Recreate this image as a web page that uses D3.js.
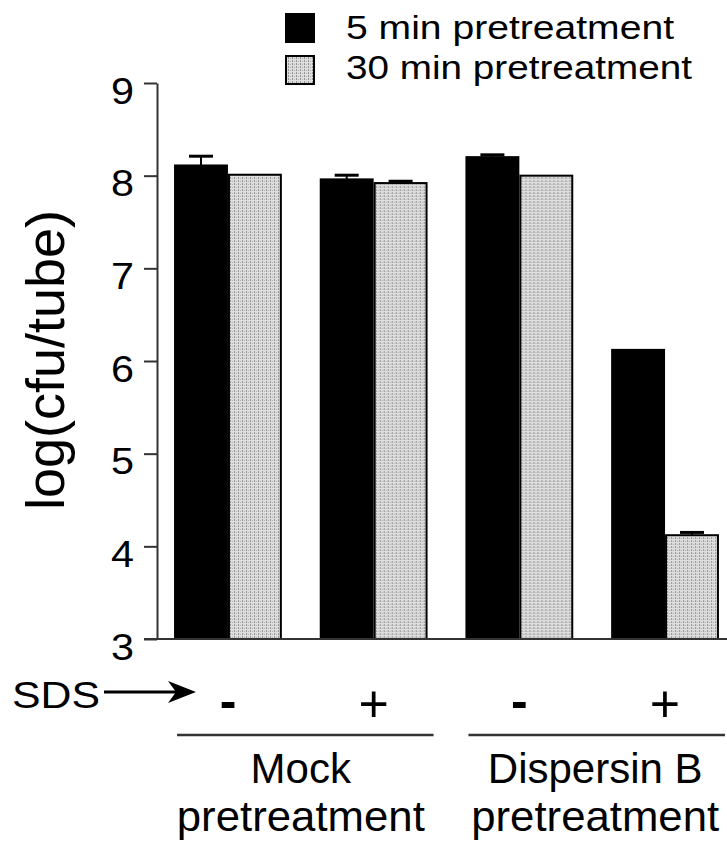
<!DOCTYPE html>
<html>
<head>
<meta charset="utf-8">
<script src="https://cdn.jsdelivr.net/npm/d3@7"></script>
<style>
  html, body { margin: 0; padding: 0; background: #fff; }
  svg { display: block; }
  text { font-family: "Liberation Sans", Arial, Helvetica, sans-serif; fill: #000; }
</style>
</head>
<body>
<svg id="chart" width="727" height="842"></svg>
<script>
// ---- data ----
const groups = ["Mock -", "Mock +", "DspB -", "DspB +"];
const sdsLabels = ["-", "+", "-", "+"];
const seriesNames = ["5 min pretreatment", "30 min pretreatment"];
const values5 = [8.11, 7.96, 8.20, 6.12];
const err5 = [0.10, 0.045, 0.025, 0];
const values30 = [8.01, 7.92, 8.00, 4.12];
const err30 = [0, 0.02, 0, 0.03];
const yTicks = [3, 4, 5, 6, 7, 8, 9];
const pretreatLabels = [["Mock", "pretreatment"], ["Dispersin B", "pretreatment"]];
const pretreatGroups = [[0, 1], [2, 3]];

// ---- setup ----
const svg = d3.select("#chart");
const FONT = "\"Liberation Sans\", Arial, Helvetica, sans-serif";

const defs = svg.append("defs");
const pat = defs.append("pattern")
  .attr("id", "dots").attr("patternUnits", "userSpaceOnUse")
  .attr("width", 4).attr("height", 3);
pat.append("rect").attr("width", 4).attr("height", 3).attr("fill", "#dedede");
pat.append("rect").attr("x", 0).attr("y", 0).attr("width", 1).attr("height", 2).attr("fill", "#959595");
pat.append("rect").attr("x", 2).attr("y", 1).attr("width", 1).attr("height", 1).attr("fill", "#b0b0b0");

const x = d3.scaleBand().domain(groups).range([157, 736])
  .paddingInner(0.26).paddingOuter(0.117);
const xs = d3.scaleBand().domain(seriesNames).range([0, x.bandwidth()]).padding(0);
const y = d3.scaleLinear().domain([3, 9]).range([639, 83]);

const rows = groups.map((g, i) => ({
  g, i,
  bars: [
    { s: seriesNames[0], v: values5[i], e: err5[i] },
    { s: seriesNames[1], v: values30[i], e: err30[i] }
  ]
}));

// ---- bars ----
const gBars = svg.append("g");
const grp = gBars.selectAll("g.grp").data(rows).join("g")
  .attr("transform", d => `translate(${x(d.g)},0)`);

// error bars (behind bars)
grp.selectAll("g.err").data(d => d.bars.filter(b => b.e > 0)).join("g")
  .each(function(b) {
    const cx = xs(b.s) + xs.bandwidth() / 2;
    const g = d3.select(this);
    g.append("line").attr("x1", cx).attr("x2", cx)
      .attr("y1", y(b.v)).attr("y2", y(b.v + b.e))
      .attr("stroke", "#000").attr("stroke-width", 2);
    g.append("line").attr("x1", cx - 12).attr("x2", cx + 12)
      .attr("y1", y(b.v + b.e)).attr("y2", y(b.v + b.e))
      .attr("stroke", "#000").attr("stroke-width", 3);
  });

grp.selectAll("rect.bar").data(d => d.bars).join("rect")
  .attr("x", b => xs(b.s) + 1)
  .attr("width", xs.bandwidth() - 2)
  .attr("y", b => y(b.v))
  .attr("height", b => y(3) - y(b.v))
  .attr("fill", (b, j) => j === 0 ? "#000" : "url(#dots)")
  .attr("stroke", "#000").attr("stroke-width", 2);

// ---- axes ----
const axisColor = "#333";
const yAxis = d3.axisLeft(y).tickValues(yTicks).tickSize(13).tickSizeOuter(0).tickFormat(d3.format("d"));
const gy = svg.append("g").attr("transform", "translate(157,0)").call(yAxis);
gy.select(".domain").attr("stroke", axisColor).attr("stroke-width", 2);
gy.selectAll(".tick line").attr("stroke", axisColor).attr("stroke-width", 2);
gy.selectAll(".tick text")
  .attr("x", -23).attr("dy", null).attr("y", 20)
  .attr("font-family", FONT).attr("font-size", 36)
  .attr("textLength", 23).attr("lengthAdjust", "spacingAndGlyphs")
  .attr("fill", "#000").attr("text-anchor", "end");

// x axis baseline
svg.append("line").attr("x1", 144).attr("x2", 736)
  .attr("y1", y(3)).attr("y2", y(3))
  .attr("stroke", axisColor).attr("stroke-width", 2);

// y title
svg.append("text")
  .attr("transform", "translate(64,360) rotate(-90)")
  .attr("text-anchor", "middle")
  .attr("font-size", 54)
  .text("log(cfu/tube)");

// ---- SDS row ----
svg.append("text").attr("x", 12).attr("y", 708)
  .attr("font-size", 36).attr("textLength", 88).attr("lengthAdjust", "spacingAndGlyphs")
  .text("SDS");
svg.append("line").attr("x1", 104).attr("x2", 182).attr("y1", 692).attr("y2", 692)
  .attr("stroke", "#000").attr("stroke-width", 3);
svg.append("path").attr("d", "M196,692 L168,681 L176,692 L168,703 Z").attr("fill", "#000");

svg.selectAll("text.sds").data(sdsLabels).join("text")
  .attr("class", "sds")
  .attr("x", (d, i) => x(groups[i]) + x.bandwidth() / 2)
  .attr("y", d => d === "+" ? 722 : 718)
  .attr("text-anchor", "middle")
  .attr("font-size", d => d === "+" ? 52 : 50)
  .attr("font-weight", d => d === "-" ? "bold" : "normal")
  .text(d => d);

// ---- pretreatment brackets ----
pretreatGroups.forEach((pg, k) => {
  const x0 = x(groups[pg[0]]) + 3;
  const x1 = Math.min(x(groups[pg[1]]) + x.bandwidth() + 6, 725);
  svg.append("line").attr("x1", x0).attr("x2", x1).attr("y1", 735).attr("y2", 735)
    .attr("stroke", axisColor).attr("stroke-width", 2.5);
  const cx = (x(groups[pg[0]]) + x(groups[pg[1]]) + x.bandwidth()) / 2 + (k === 1 ? 3 : 0);
  svg.append("text").attr("x", cx).attr("y", 783).attr("text-anchor", "middle")
    .attr("font-size", 42).text(pretreatLabels[k][0]);
  svg.append("text").attr("x", cx).attr("y", 831).attr("text-anchor", "middle")
    .attr("font-size", 42).attr("textLength", 248).attr("lengthAdjust", "spacingAndGlyphs")
    .text(pretreatLabels[k][1]);
});

// ---- legend ----
const legend = svg.append("g");
const legendLens = [328, 346];
seriesNames.forEach((s, i) => {
  legend.append("rect").attr("x", 286).attr("y", 14 + i * 42)
    .attr("width", 28).attr("height", 28)
    .attr("fill", i === 0 ? "#000" : "url(#dots)")
    .attr("stroke", "#000").attr("stroke-width", 2);
  legend.append("text").attr("x", 346).attr("y", 39 + i * 40)
    .attr("font-size", 34)
    .attr("textLength", legendLens[i]).attr("lengthAdjust", "spacingAndGlyphs")
    .text(s);
});
</script>
</body>
</html>
